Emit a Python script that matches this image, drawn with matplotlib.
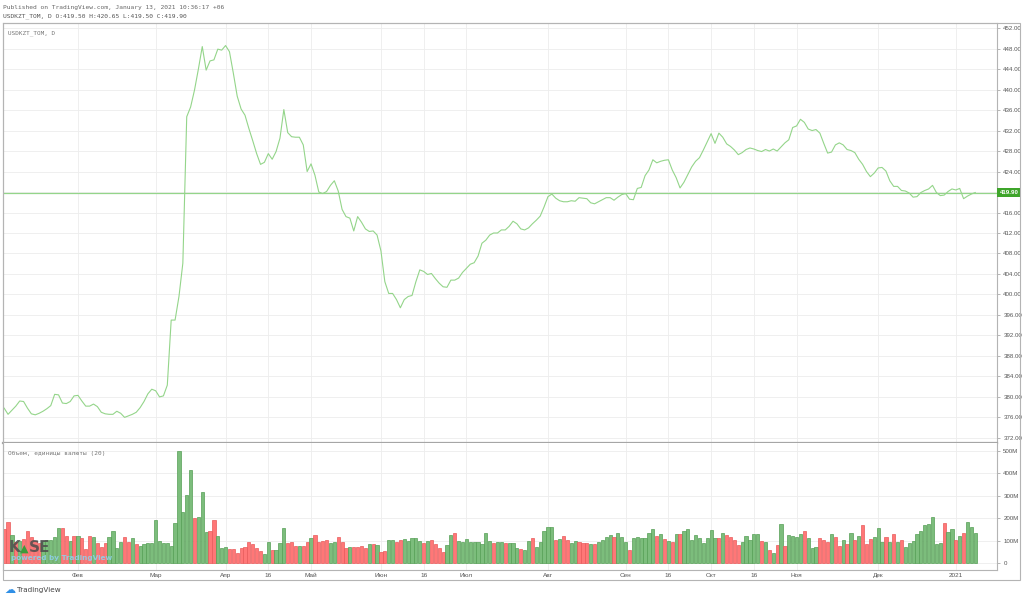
import numpy as np
import pandas as pd
import matplotlib
matplotlib.use("Agg")
import matplotlib.pyplot as plt
from matplotlib.patches import Rectangle

# -----------------------------------------------------------------
# Data
# -----------------------------------------------------------------
holidays = ["2020-01-07", "2020-03-09", "2020-03-23", "2020-03-24", "2020-03-25",
            "2020-05-01", "2020-05-07", "2020-05-11", "2020-07-06", "2020-07-31",
            "2020-08-31", "2020-12-01", "2020-12-16", "2020-12-17",
            "2021-01-01", "2021-01-07"]

close = [
    377.8, 376.6, 377.4, 378.2, 379.2, 379.1, 377.8, 376.7, 376.5, 376.8,
    377.2, 377.7, 378.3, 380.5, 380.4, 378.8, 378.7, 379.1, 380.2, 380.3,
    379.2, 378.2, 378.2, 378.6, 378.1, 377.0, 376.7, 376.6, 376.6, 377.2,
    376.8, 376.0, 376.3, 376.6, 377.0, 377.9, 379.1, 380.6, 381.5, 381.2,
    380.0, 380.2, 382.3, 395.0, 395.0, 399.6, 406.1, 434.7, 436.6, 439.9,
    444.0, 448.4, 443.8, 445.6, 445.8, 447.9, 447.7, 448.6, 447.4, 443.2,
    438.7, 436.2, 435.0, 432.4, 430.0, 427.5, 425.4, 425.8, 427.5, 426.4,
    427.9, 430.5, 436.1, 431.6, 430.8, 430.7, 430.7, 429.2, 424.0, 425.5,
    423.3, 420.0, 419.7, 420.1, 421.3, 422.2, 420.2, 416.6, 415.2, 414.9,
    412.4, 415.2, 414.1, 412.8, 412.3, 412.4, 411.6, 408.5, 402.5, 400.2,
    400.2, 399.0, 397.4, 399.0, 399.6, 399.8, 402.5, 404.8, 404.5, 403.9,
    404.1, 403.1, 402.2, 401.5, 401.4, 402.8, 402.8, 403.2, 404.3, 405.1,
    405.9, 406.2, 407.5, 410.0, 410.6, 411.6, 412.0, 412.0, 412.6, 412.6,
    413.3, 414.3, 413.8, 412.8, 412.6, 413.0, 413.8, 414.5, 415.3, 417.1,
    419.1, 419.6, 418.8, 418.3, 418.1, 418.1, 418.3, 418.2, 418.9, 418.8,
    418.7, 417.9, 417.7, 418.1, 418.5, 418.9, 418.9, 418.4, 419.0, 419.5,
    419.7, 418.6, 418.5, 420.7, 420.9, 423.2, 424.3, 426.3, 425.7, 426.0,
    426.2, 426.3, 424.3, 422.8, 420.8, 421.9, 423.4, 424.9, 426.0, 426.7,
    428.2, 429.8, 431.4, 429.5, 431.5, 430.7, 429.4, 428.9, 428.2, 427.3,
    427.7, 428.3, 428.6, 428.4, 428.1, 427.9, 428.3, 428.0, 428.4, 428.0,
    428.8, 429.6, 430.2, 432.6, 432.9, 434.2, 433.6, 432.3, 432.0, 432.2,
    431.5, 429.5, 427.6, 427.8, 429.2, 429.6, 429.2, 428.3, 428.1, 427.7,
    426.4, 425.4, 424.0, 423.0, 423.7, 424.7, 424.8, 424.1, 422.2, 421.1,
    421.1, 420.3, 420.2, 419.8, 419.0, 419.1, 419.9, 420.3, 420.6, 421.3,
    419.9, 419.3, 419.4, 420.1, 420.6, 420.4, 420.7, 418.7, 419.2, 419.6,
    419.9,
]

# volume in millions of currency units
volume = [
    154, 184, 125, 95, 99, 107, 144, 117, 100, 88,
    99, 105, 105, 114, 156, 156, 120, 99, 120, 120,
    110, 61, 122, 114, 88, 73, 88, 114, 141, 65,
    95, 117, 95, 111, 83, 76, 85, 91, 91, 194,
    98, 88, 88, 76, 177, 500, 227, 303, 414, 199,
    206, 318, 139, 142, 191, 120, 68, 73, 62, 62,
    46, 68, 70, 92, 83, 65, 55, 39, 92, 58,
    58, 88, 157, 91, 96, 76, 76, 76, 95, 110,
    126, 95, 100, 105, 88, 96, 117, 95, 65, 70,
    70, 70, 76, 65, 85, 85, 80, 50, 55, 105,
    102, 95,
    102, 107, 99, 110, 113, 98, 91, 98, 102, 83,
    65, 50, 80, 125, 132, 98, 95, 108, 95, 95,
    92, 85, 132, 99, 88, 92, 95, 91, 91, 91,
    68, 61, 58, 99, 113, 70, 95, 144, 162, 159,
    105, 107, 120, 102, 91, 99, 95, 88, 91, 83,
    85, 95, 105, 114, 125, 117, 132, 114, 95, 58,
    110, 114, 113, 110, 132, 150, 120, 128, 107, 98,
    95, 129, 129, 144, 151, 105, 125, 112, 91, 110,
    147, 110, 110, 132, 125, 117, 102, 80, 95, 122,
    102, 129, 129, 99, 95, 58, 47, 80,
    172, 76, 125, 120, 114, 129, 144, 110, 65, 73,
    110, 102, 95, 129, 114, 76, 105, 85, 135, 102,
    120, 169, 85, 107, 114, 157, 95, 117, 95, 129,
    95, 105, 73, 91, 99, 129, 142, 169, 174, 206,
    83, 91, 177, 137, 154, 102, 120, 135, 181, 159, 132,
]

# g = up bar, r = down bar
volume_dir = ("rrgrgrrrrr" "gggggrrgrg" "rrrgrrrggg" "grrgrggggg" "gggggggggr"
              "gggrrgggrr" "rrrrrrrggr" "gggrrrgrrg" "rrrrggrrrg" "rrrrgrgrrg" "gr"
              "rgggggrgrr" "rrggrggggg" "ggggrggrgg" "grggrggggg" "rgrrggrrrg"
              "rggggrgggr" "ggggggrgrg" "rgrggggggg" "ggrgrrrrgg" "gggrgrgr"
              "grggggrggg" "rrrgrrgrgr" "grrrgggrgr" "grgggggggg" "ggrggrgrggg")

tick_starts = ["2020-02-01", "2020-03-01", "2020-04-01", "2020-04-16", "2020-05-01",
               "2020-06-01", "2020-06-16", "2020-07-01", "2020-08-01", "2020-09-01",
               "2020-09-16", "2020-10-01", "2020-10-16", "2020-11-01", "2020-12-01",
               "2021-01-01"]
tick_labels = ["Фев", "Мар", "Апр", "16", "Май", "Июн", "16", "Июл", "Авг", "Сен",
               "16", "Окт", "16", "Ноя", "Дек", "2021"]

price_ticks = np.arange(372, 453, 4)
volume_ticks = [0, 100, 200, 300, 400, 500]

dates = pd.bdate_range("2020-01-06", "2021-01-12")
dates = dates[~dates.isin(pd.to_datetime(holidays))]
assert len(dates) == len(close) == len(volume) == len(volume_dir)

idx = np.arange(len(close))
tick_pos = dates.searchsorted(pd.to_datetime(tick_starts))

# -----------------------------------------------------------------
# Styling
# -----------------------------------------------------------------
W, H = 1024, 600
line_color = "#94d58a"
grid_color = "#ededed"
frame_color = "#b4b4b4"
label_color = "#555555"
scale_font = "Liberation Sans"
up_fill, up_edge = "#7cbd7c", "#559f55"
dn_fill, dn_edge = "#ff7777", "#e85a5a"


def fig_rect(x0, y0, x1, y1):
    # pixel box (top-left origin) -> figure fraction
    return [x0 / W, 1 - y1 / H, (x1 - x0) / W, (y1 - y0) / H]


fig = plt.figure(figsize=(W / 100, H / 100), dpi=100)
fig.patch.set_facecolor("white")

ax = fig.add_axes(fig_rect(3, 23, 997, 443))
axv = fig.add_axes(fig_rect(3, 443, 997, 570), sharex=ax)

# -----------------------------------------------------------------
# Price pane
# -----------------------------------------------------------------
ax.plot(idx, close, color=line_color, lw=0.8, zorder=3)
ax.axhline(close[-1], color=line_color, lw=0.9, zorder=2)

ax.set_xlim(-0.3, 255.6)
ax.set_ylim(371.0, 453.0)
ax.yaxis.tick_right()
ax.set_yticks(price_ticks)
ax.set_yticklabels(["" if v == 420 else f"{v:.2f}" for v in price_ticks],
                   family=scale_font)
ax.tick_params(axis="y", labelsize=4.4, labelcolor=label_color, color="#999999",
               length=2.5, width=0.5, pad=2)
ax.set_xticks(tick_pos)
ax.tick_params(axis="x", length=0, labelbottom=False)
ax.grid(True, color=grid_color, lw=0.6)
ax.set_axisbelow(True)

for side in ["left", "top", "right"]:
    ax.spines[side].set_color(frame_color)
    ax.spines[side].set_linewidth(0.8)
ax.spines["bottom"].set_color("#a6a6a6")
ax.spines["bottom"].set_linewidth(1.6)

ax.text(1.0025, close[-1], f"{close[-1]:.2f}", transform=ax.get_yaxis_transform(),
        ha="left", va="center", fontsize=4.4, family=scale_font, color="white",
        fontweight="bold",
        bbox=dict(boxstyle="square,pad=0.35", fc="#3ea52a", ec="none"), zorder=5)

# -----------------------------------------------------------------
# Volume pane
# -----------------------------------------------------------------
fills = [up_fill if d == "g" else dn_fill for d in volume_dir]
edges = [up_edge if d == "g" else dn_edge for d in volume_dir]
axv.bar(idx, volume, width=0.82, color=fills, edgecolor=edges, linewidth=0.5, zorder=3)

axv.set_ylim(-31, 535.6)
axv.yaxis.tick_right()
axv.set_yticks(volume_ticks)
axv.set_yticklabels(["0" if v == 0 else f"{v}M" for v in volume_ticks],
                    family=scale_font)
axv.tick_params(axis="y", labelsize=4.4, labelcolor=label_color, color="#999999",
                length=2.5, width=0.5, pad=2)
axv.set_xticks(tick_pos)
axv.set_xticklabels(tick_labels, family=scale_font)
axv.tick_params(axis="x", labelsize=4.6, labelcolor=label_color, length=0, pad=2.5)
axv.grid(True, color=grid_color, lw=0.6)
axv.set_axisbelow(True)

axv.spines["top"].set_visible(False)
for side in ["left", "right", "bottom"]:
    axv.spines[side].set_color(frame_color)
    axv.spines[side].set_linewidth(0.8)

# outer frame around both panes and the scales
fig.add_artist(Rectangle((3 / W, 1 - 580 / H), 1017 / W, 557 / H,
                         transform=fig.transFigure, fill=False,
                         ec=frame_color, lw=0.8))

# -----------------------------------------------------------------
# Texts
# -----------------------------------------------------------------
mono = "DejaVu Sans Mono"
fig.text(3 / W, 1 - 7 / H, "Published on TradingView.com, January 13, 2021 10:36:17 +06",
         family=mono, fontsize=4.5, color="#666666", va="center", ha="left")
fig.text(3 / W, 1 - 16.5 / H, "USDKZT_TOM, D O:419.50 H:420.65 L:419.50 C:419.90",
         family=mono, fontsize=4.5, color="#555555", va="center", ha="left")
fig.text(8 / W, 1 - 33 / H, "USDKZT_TOM, D", family=mono, fontsize=4.3,
         color="#777777", va="center", ha="left")
fig.text(8 / W, 1 - 453.5 / H, "Объем, единицы валюты (20)", family=mono,
         fontsize=4.4, color="#777777", va="center", ha="left")

# KASE watermark
fig.text(9 / W, 1 - 548 / H, "K", fontsize=11, fontweight="bold",
         color="#4d4d4d", alpha=0.85, va="center", ha="left", zorder=6)
fig.text(19.5 / W, 1 - 548.5 / H, "▲", fontsize=8, color="#3c9a3c",
         va="center", ha="left", zorder=6)
fig.text(29 / W, 1 - 548 / H, "SE", fontsize=11, fontweight="bold",
         color="#4d4d4d", alpha=0.85, va="center", ha="left", zorder=6)
fig.text(11 / W, 1 - 558 / H, "powered by TradingView", fontsize=5.2,
         fontweight="bold", color="#8fd0ea", alpha=0.9, va="center", ha="left", zorder=6)

# bottom logo
fig.text(4 / W, 1 - 590 / H, "☁", fontsize=8, color="#2f8fe6",
         va="center", ha="left")
fig.text(17 / W, 1 - 590 / H, "TradingView", fontsize=5.2, color="#444444",
         va="center", ha="left")

fig.savefig("out.png", dpi=100, facecolor="white")
